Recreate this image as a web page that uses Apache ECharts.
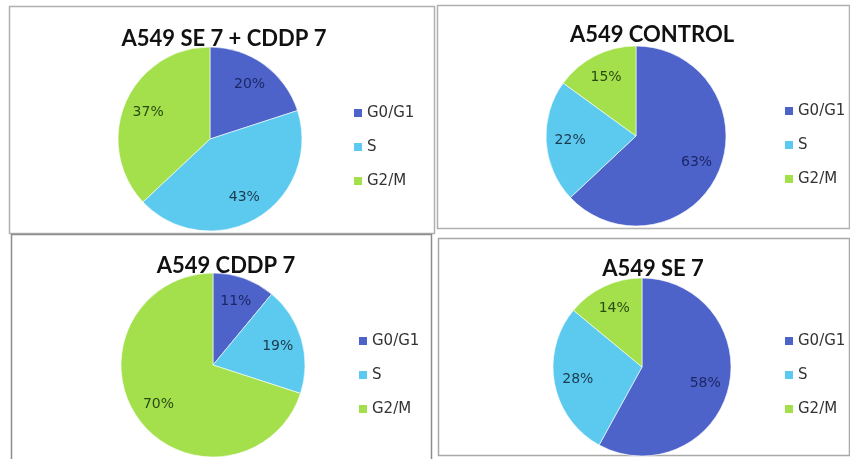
<!DOCTYPE html>
<html>
<head>
<meta charset="utf-8">
<script src="https://cdn.jsdelivr.net/npm/echarts@6/dist/echarts.min.js"></script>
<style>
  html, body { margin: 0; padding: 0; background: #ffffff; }
  #chart { width: 850px; height: 459px; }
</style>
</head>
<body>
<div id="chart"></div>
<script>
// Cell-cycle phase distribution (%) for four A549 treatments
const phases = ['G0/G1', 'S', 'G2/M'];
const panelTitles = ['A549 SE 7 + CDDP 7', 'A549 CONTROL', 'A549 CDDP 7', 'A549 SE 7'];
const seCddpValues = [20, 43, 37];
const controlValues = [63, 22, 15];
const cddpValues = [11, 19, 70];
const seValues = [58, 28, 14];

const panelValues = [seCddpValues, controlValues, cddpValues, seValues];

const phaseColors = ['#4d63c9', '#5cc9ef', '#a3e04c'];
const labelColors = ['#1b2766', '#1c3a4e', '#2b4a12'];

// Layout of the four panels: pie centre/radius, title anchor, legend anchor, frame
const panels = [
  { cx: 210, cy: 139, r: 92, tx: 219, ty: 23, lx: 347, ly: 100, frame: [9, 6, 425, 227], frameColor: '#b0b0b0' },
  { cx: 636, cy: 136, r: 90, tx: 647, ty: 19, lx: 778, ly: 98, frame: [437, 5, 412, 223], frameColor: '#b0b0b0' },
  { cx: 213, cy: 365, r: 92, tx: 221, ty: 250, lx: 352, ly: 328, frame: [11, 234, 420, 230], frameColor: '#8c8c8c' },
  { cx: 642, cy: 367, r: 89, tx: 648, ty: 253, lx: 778, ly: 328, frame: [438, 238, 411, 217], frameColor: '#a8a8a8' }
];

const chart = echarts.init(document.getElementById('chart'), null, { renderer: 'canvas' });

const series = [];
const titles = [];
const legends = [];
const frames = [];

panels.forEach(function (p, i) {
  const data = phases.map(function (name, k) {
    return { name: name, value: panelValues[i][k] };
  });

  // filled slices
  series.push({
    type: 'pie',
    center: [p.cx, p.cy],
    radius: [0, p.r],
    startAngle: 90,
    clockwise: true,
    silent: true,
    label: { show: false },
    labelLine: { show: false },
    itemStyle: {
      color: function (params) { return phaseColors[params.dataIndex]; },
      borderColor: '#ffffff',
      borderWidth: 0.6
    },
    data: data
  });

  // percentage labels sit on a ring further out than the default inner position
  series.push({
    type: 'pie',
    center: [p.cx, p.cy],
    radius: [p.r * 0.4, p.r],
    startAngle: 90,
    clockwise: true,
    silent: true,
    legendHoverLink: false,
    itemStyle: { color: 'rgba(0,0,0,0)', borderWidth: 0 },
    label: {
      show: true,
      position: 'inside',
      fontFamily: 'DejaVu Sans',
      fontSize: 14,
      formatter: function (params) { return params.value + '%'; }
    },
    labelLine: { show: false },
    data: data.map(function (d, k) {
      return { name: d.name, value: d.value, label: { color: labelColors[k] } };
    })
  });

  titles.push({
    text: panelTitles[i],
    left: p.tx,
    top: p.ty,
    textAlign: 'center',
    textStyle: {
      fontFamily: 'Lato',
      fontWeight: 'bold',
      fontSize: 22,
      color: '#111111'
    }
  });

  legends.push({
    orient: 'vertical',
    left: p.lx,
    top: p.ly,
    icon: 'rect',
    itemWidth: 10,
    itemHeight: 10,
    itemGap: 18,
    selectedMode: false,
    data: phases.map(function (name, k) {
      return { name: name, itemStyle: { color: phaseColors[k] } };
    }),
    textStyle: {
      fontFamily: 'DejaVu Sans',
      fontSize: 15,
      lineHeight: 16,
      color: '#333333',
      padding: [0, 0, 0, -1]
    }
  });

  frames.push({
    type: 'rect',
    silent: true,
    shape: { x: p.frame[0] + 0.5, y: p.frame[1] + 0.5, width: p.frame[2], height: p.frame[3] },
    style: { fill: null, stroke: p.frameColor, lineWidth: 1.5 }
  });
});

chart.setOption({
  backgroundColor: '#ffffff',
  animation: false,
  title: titles,
  legend: legends,
  graphic: frames,
  series: series
});
</script>
</body>
</html>
